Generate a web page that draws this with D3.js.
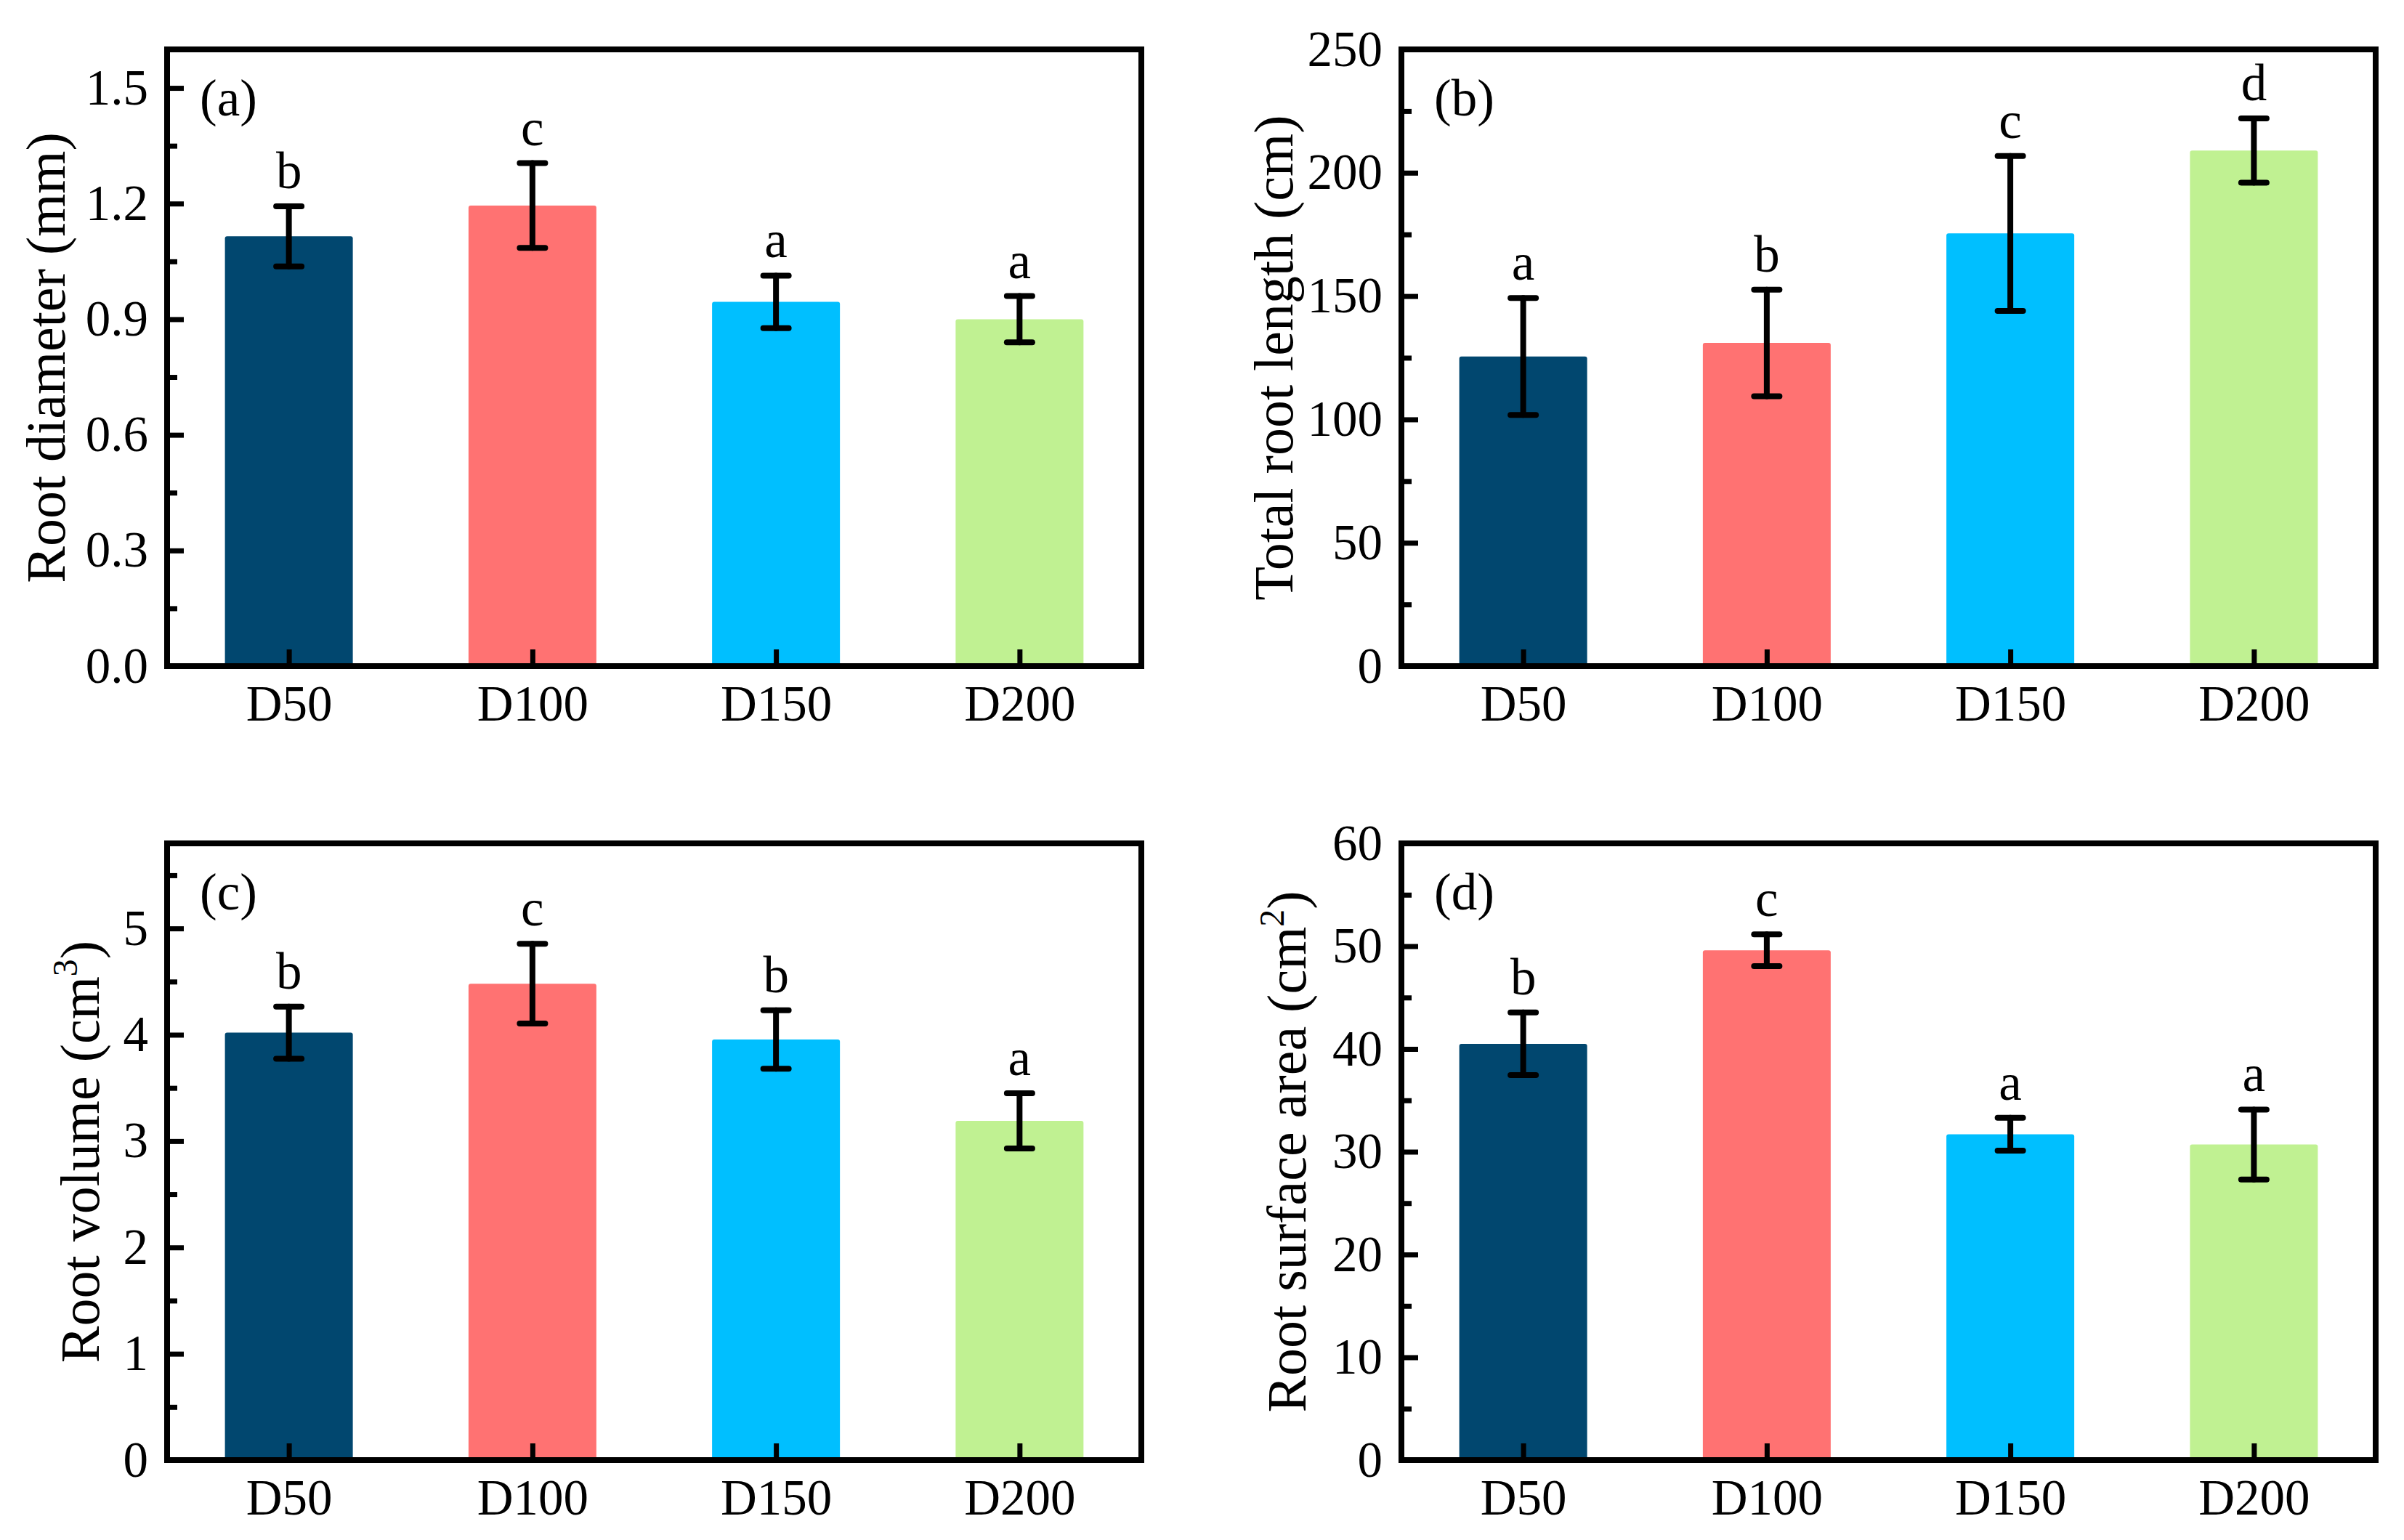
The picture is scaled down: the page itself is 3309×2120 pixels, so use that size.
<!DOCTYPE html>
<html>
<head>
<meta charset="utf-8">
<script src="https://cdn.jsdelivr.net/npm/d3@7"></script>
<style>
  html, body { margin: 0; padding: 0; background: #fff; }
  svg { display: block; font-family: "Liberation Serif", "Times New Roman", serif; }
</style>
</head>
<body>
<svg id="chart" width="3309" height="2120"></svg>
<script>
// ── Data ──────────────────────────────────────────────────────────────────────
var groups    = ["D50", "D100", "D150", "D200"];
var barColors = ["#01476F", "#FF7272", "#00BFFF", "#C0F192"];

var diameterMean    = [1.115, 1.195, 0.945, 0.90];
var diameterErr     = [0.078, 0.110, 0.068, 0.060];
var diameterLetters = ["b", "c", "a", "a"];
var diameterTicks   = [0, 0.3, 0.6, 0.9, 1.2, 1.5];

var lengthMean    = [125.5, 131.0, 175.4, 209.0];
var lengthErr     = [23.7, 21.6, 31.4, 13.0];
var lengthLetters = ["a", "b", "c", "d"];
var lengthTicks   = [0, 50, 100, 150, 200, 250];

var volumeMean    = [4.02, 4.48, 3.955, 3.19];
var volumeErr     = [0.245, 0.375, 0.275, 0.26];
var volumeLetters = ["b", "c", "b", "a"];
var volumeTicks   = [0, 1, 2, 3, 4, 5];

var areaMean    = [40.5, 49.6, 31.7, 30.7];
var areaErr     = [3.05, 1.55, 1.6, 3.4];
var areaLetters = ["b", "c", "a", "a"];
var areaTicks   = [0, 10, 20, 30, 40, 50, 60];

// ── Panels (layout + which arrays they draw) ──────────────────────────────────
var panels = [
  { tag: "(a)", x: 230,  y: 68,   max: 1.6, minor: 0.15, fmt: d3.format(".1f"),
    mean: diameterMean, err: diameterErr, letters: diameterLetters, ticks: diameterTicks,
    title: ["Root diameter (mm)"], titleOff: 141 },
  { tag: "(b)", x: 1929, y: 68,   max: 250, minor: 25, fmt: d3.format("d"),
    mean: lengthMean, err: lengthErr, letters: lengthLetters, ticks: lengthTicks,
    title: ["Total root length (cm)"], titleOff: 150 },
  { tag: "(c)", x: 230,  y: 1161, max: 5.8, minor: 0.5, fmt: d3.format("d"),
    mean: volumeMean, err: volumeErr, letters: volumeLetters, ticks: volumeTicks,
    title: ["Root volume (cm", "3", ")"], titleOff: 94 },
  { tag: "(d)", x: 1929, y: 1161, max: 60, minor: 5, fmt: d3.format("d"),
    mean: areaMean, err: areaErr, letters: areaLetters, ticks: areaTicks,
    title: ["Root surface area (cm", "2", ")"], titleOff: 132 },
];

var W = 1341, H = 849;
var FS = 69;
var svg = d3.select("#chart");

panels.forEach(function (p) {
  var g = svg.append("g").attr("transform", "translate(" + p.x + "," + p.y + ")");

  var x = d3.scalePoint().domain(groups).range([0, W]).padding(0.5);
  var y = d3.scaleLinear().domain([0, p.max]).range([H, 0]);
  var bw = x.step() * 0.525;

  var rows = groups.map(function (k, i) {
    return { k: k, m: p.mean[i], e: p.err[i], l: p.letters[i], c: barColors[i] };
  });

  // bars
  g.selectAll("rect.bar").data(rows).join("rect")
    .attr("class", "bar")
    .attr("x", function (d) { return x(d.k) - bw / 2; })
    .attr("y", function (d) { return y(d.m); })
    .attr("width", bw)
    .attr("height", function (d) { return H - y(d.m) + 3; })
    .attr("rx", 3)
    .attr("fill", function (d) { return d.c; });

  // error bars
  var eb = g.selectAll("g.err").data(rows).join("g").attr("class", "err")
    .attr("stroke", "#000").attr("stroke-width", 8).attr("stroke-linecap", "round");
  eb.append("line")
    .attr("x1", function (d) { return x(d.k); }).attr("x2", function (d) { return x(d.k); })
    .attr("y1", function (d) { return y(d.m + d.e); }).attr("y2", function (d) { return y(d.m - d.e); });
  [1, -1].forEach(function (s) {
    eb.append("line")
      .attr("x1", function (d) { return x(d.k) - 17.5; }).attr("x2", function (d) { return x(d.k) + 17.5; })
      .attr("y1", function (d) { return y(d.m + s * d.e); }).attr("y2", function (d) { return y(d.m + s * d.e); });
  });

  // significance letters
  g.selectAll("text.sig").data(rows).join("text")
    .attr("class", "sig")
    .attr("x", function (d) { return x(d.k); })
    .attr("y", function (d) { return y(d.m + d.e) - 25; })
    .attr("text-anchor", "middle")
    .attr("font-size", 71)
    .text(function (d) { return d.l; });

  // y axis: major + minor inward ticks
  var minorVals = d3.range(0, p.max + 1e-9, p.minor).filter(function (v) {
    return !p.ticks.some(function (t) { return Math.abs(t - v) < 1e-6; });
  });
  var yMinor = g.append("g").call(d3.axisLeft(y).tickValues(minorVals).tickSize(-14).tickFormat(""));
  var yAxis = g.append("g").call(d3.axisLeft(y).tickValues(p.ticks).tickSize(-23).tickPadding(26).tickFormat(p.fmt));
  [yMinor, yAxis].forEach(function (a) {
    a.select(".domain").remove();
    a.selectAll(".tick line").attr("stroke", "#000").attr("stroke-width", 7);
  });
  yAxis.selectAll(".tick text")
    .attr("x", -26)
    .attr("font-size", FS).attr("font-family", "Liberation Serif").attr("fill", "#000");

  // x axis
  var xAxis = g.append("g").attr("transform", "translate(0," + H + ")")
    .call(d3.axisBottom(x).tickSize(-23).tickPadding(0));
  xAxis.select(".domain").remove();
  xAxis.selectAll(".tick line").attr("stroke", "#000").attr("stroke-width", 7);
  xAxis.selectAll(".tick text")
    .attr("y", 75).attr("dy", 0)
    .attr("font-size", FS).attr("font-family", "Liberation Serif").attr("fill", "#000");

  // frame
  g.append("rect")
    .attr("width", W).attr("height", H)
    .attr("fill", "none").attr("stroke", "#000").attr("stroke-width", 8);

  // panel tag
  g.append("text")
    .attr("x", 45).attr("y", 91)
    .attr("font-size", 71)
    .text(p.tag);

  // y title
  var t = g.append("text")
    .attr("transform", "translate(" + (-p.titleOff) + "," + (H / 2) + ") rotate(-90)")
    .attr("text-anchor", "middle")
    .attr("font-size", 76);
  t.append("tspan").text(p.title[0]);
  if (p.title.length > 1) {
    t.append("tspan").attr("font-size", 48).attr("dy", -30).text(p.title[1]);
    t.append("tspan").attr("dy", 30).text(p.title[2]);
  }
});
</script>
</body>
</html>
